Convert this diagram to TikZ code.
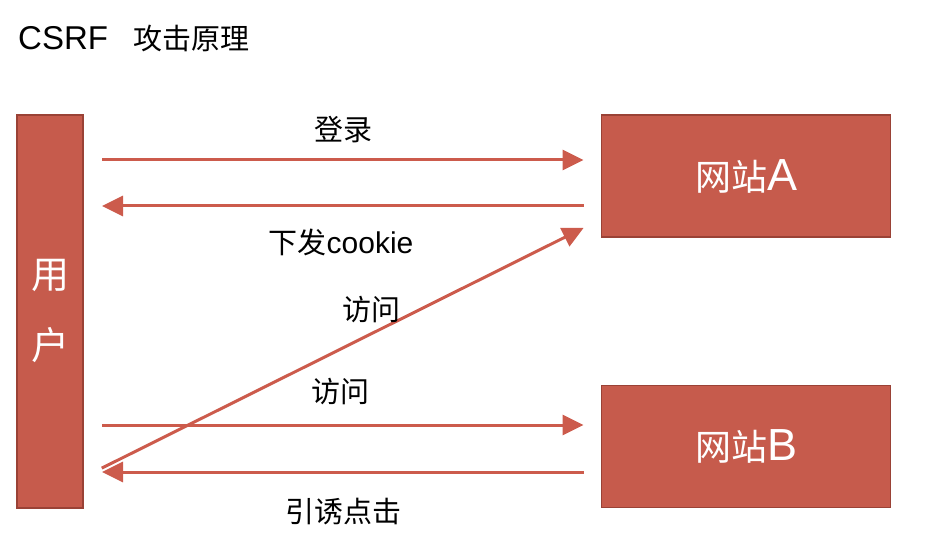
\documentclass[tikz,border=0pt]{standalone}
\usepackage{fontspec}
\setmainfont{Liberation Sans}
\newfontfamily\cjk{Noto Sans CJK SC}
\usetikzlibrary{arrows.meta, positioning}
\definecolor{brick}{HTML}{C65B4C}
\definecolor{brickdark}{HTML}{9A4236}
\definecolor{arrowred}{HTML}{CC5B4C}

\begin{document}
\begin{tikzpicture}[
    x=1pt, y=-1pt,
    box/.style={rectangle, draw=brickdark, fill=brick, line width=1.8pt,
                text=white, inner sep=0pt, outer sep=0pt, align=center},
    userbox/.style={box, minimum width=66pt, minimum height=393pt},
    sitebox/.style={box, minimum width=289pt, minimum height=122pt},
    flow/.style={-{Triangle[length=21pt, width=20pt]}, draw=arrowred, line width=3pt},
    lbl/.style={font=\cjk\fontsize{29}{34}\selectfont, inner sep=0pt}
]
\useasboundingbox (0,0) rectangle (939,553);

\node[anchor=west, inner sep=0pt, font=\fontsize{33}{40}\selectfont] (title) at (18,38)
    {CSRF\hspace{25pt}{\cjk\fontsize{29}{35}\selectfont 攻击原理}};

\node[userbox, font=\cjk\fontsize{38}{71}\selectfont] (user) at (50,311.5) {用\\户};
\node[sitebox, font=\fontsize{45}{50}\selectfont] (siteA) at (746,176)
    {{\cjk\fontsize{36}{40}\selectfont 网站}A};
\node[sitebox, font=\fontsize{45}{50}\selectfont] (siteB) at (746,446.5)
    {{\cjk\fontsize{36}{40}\selectfont 网站}B};

\draw[flow, shorten <=19pt, shorten >=18pt] (user.east |- 0,160) -- (siteA.west |- 0,160);
\draw[flow, shorten <=18pt, shorten >=19pt] (siteA.west |- 0,206) -- (user.east |- 0,206);
\draw[flow, shorten <=21pt, shorten >=20pt] (user.east |- 0,477.5) -- (siteA.west |- 0,219);
\draw[flow, shorten <=19pt, shorten >=18pt] (user.east |- 0,425) -- (siteB.west |- 0,425);
\draw[flow, shorten <=18pt, shorten >=19pt] (siteB.west |- 0,472) -- (user.east |- 0,472);

\node[lbl] (login)  at (343,130) {登录};
\node[lbl] (cookie) at (341,242) {下发{\rmfamily\fontsize{30}{34}\selectfont cookie}};
\node[lbl] (visitA) at (371,310) {访问};
\node[lbl] (visitB) at (340,392) {访问};
\node[lbl] (lure)   at (343,512) {引诱点击};

\end{tikzpicture}
\end{document}
